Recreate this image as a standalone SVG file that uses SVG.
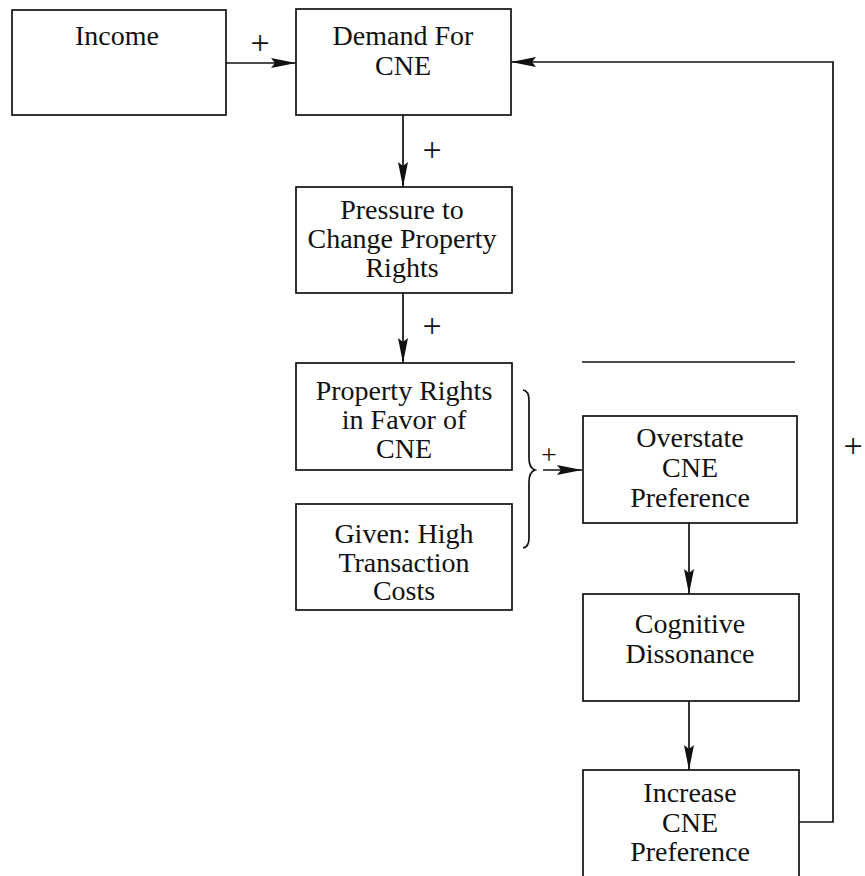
<svg xmlns="http://www.w3.org/2000/svg" width="865" height="876" viewBox="0 0 865 876">
<defs>
<marker id="ah" markerUnits="userSpaceOnUse" markerWidth="26" markerHeight="11" refX="25" refY="5" orient="auto">
<path d="M0,0 L25,5 L0,10 L4,5 Z" fill="#111"/>
</marker>
<style>
.box{fill:#fff;stroke:#111;stroke-width:1.7}
.t{font-family:"Liberation Serif","Times New Roman",serif;font-size:28px;fill:#111;text-anchor:middle}
.p{font-family:"Liberation Serif","Times New Roman",serif;font-size:34px;fill:#111;text-anchor:middle}
.c{fill:none;stroke:#111;stroke-width:1.7}
</style>
</defs>
<rect width="865" height="876" fill="#fff"/>
<g id="connectors">
<line class="c" x1="226" y1="63" x2="296" y2="63" marker-end="url(#ah)"/>
<line class="c" x1="403" y1="115" x2="403" y2="187" marker-end="url(#ah)"/>
<line class="c" x1="403" y1="293" x2="403" y2="363" marker-end="url(#ah)"/>
<line class="c" x1="543" y1="470" x2="582" y2="470" marker-end="url(#ah)"/>
<line class="c" x1="689" y1="523" x2="689" y2="594" marker-end="url(#ah)"/>
<line class="c" x1="689" y1="701" x2="689" y2="770" marker-end="url(#ah)"/>
<path class="c" d="M799,822 H833 V62 H511" marker-end="url(#ah)"/>
<path class="c" d="M523,390 Q529,391 529,400 V458 Q529,468 535,470 Q529,472 529,482 V538 Q529,547 523,548"/>
<line class="c" x1="582" y1="362" x2="795" y2="362"/>
<text class="p" x="260" y="54">+</text>
<text class="p" x="432" y="161">+</text>
<text class="p" x="432" y="337">+</text>
<text class="p" x="549" y="464" style="font-size:28px">+</text>
<text class="p" x="853" y="457">+</text>
</g>
<g id="income">
<rect class="box" x="12" y="10" width="214" height="105"/>
<text class="t" x="117" y="45">Income</text>
</g>
<g id="demand">
<rect class="box" x="296" y="9" width="215" height="106"/>
<text class="t" x="403" y="45">Demand For</text>
<text class="t" x="403" y="75">CNE</text>
</g>
<g id="pressure">
<rect class="box" x="296" y="187" width="216" height="106"/>
<text class="t" x="402" y="219">Pressure to</text>
<text class="t" x="402" y="248">Change Property</text>
<text class="t" x="402" y="277">Rights</text>
</g>
<g id="property-rights">
<rect class="box" x="296" y="363" width="216" height="107"/>
<text class="t" x="404" y="400">Property Rights</text>
<text class="t" x="404" y="429">in Favor of</text>
<text class="t" x="404" y="458">CNE</text>
</g>
<g id="given">
<rect class="box" x="296" y="504" width="216" height="106"/>
<text class="t" x="404" y="543">Given: High</text>
<text class="t" x="404" y="572">Transaction</text>
<text class="t" x="404" y="600">Costs</text>
</g>
<g id="overstate">
<rect class="box" x="583" y="416" width="214" height="107"/>
<text class="t" x="690" y="447">Overstate</text>
<text class="t" x="690" y="477">CNE</text>
<text class="t" x="690" y="507">Preference</text>
</g>
<g id="cognitive">
<rect class="box" x="583" y="594" width="216" height="107"/>
<text class="t" x="690" y="633">Cognitive</text>
<text class="t" x="690" y="663">Dissonance</text>
</g>
<g id="increase">
<rect class="box" x="583" y="770" width="216" height="120"/>
<text class="t" x="690" y="802">Increase</text>
<text class="t" x="690" y="832">CNE</text>
<text class="t" x="690" y="861">Preference</text>
</g>
</svg>
